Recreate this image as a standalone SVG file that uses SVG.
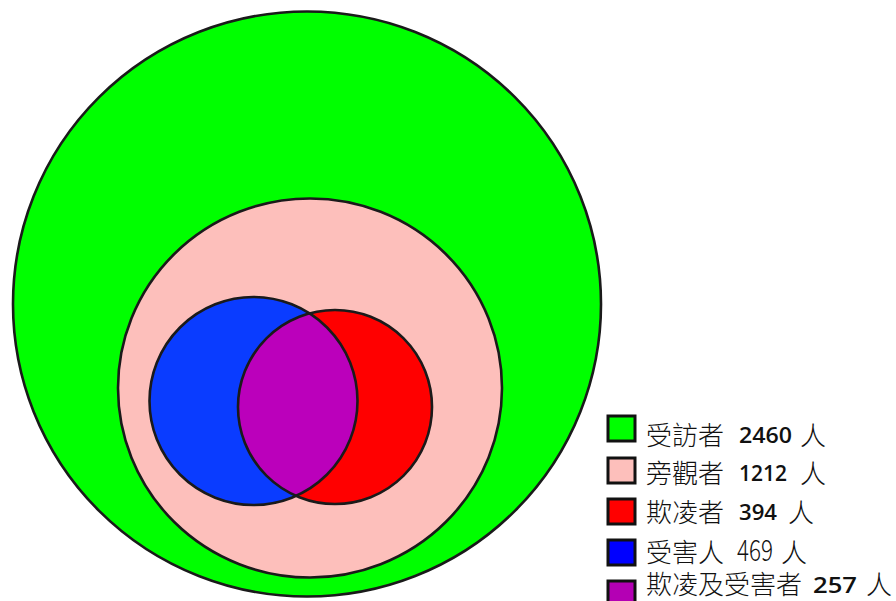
<svg xmlns="http://www.w3.org/2000/svg" width="896" height="601" viewBox="0 0 896 601">
<style>
.ol{stroke:#1a1a1a;stroke-width:2.6}
.lg{stroke:#111;stroke-width:3}
.cjk{font-family:"Noto Sans CJK TC","Noto Sans CJK SC",sans-serif;font-size:26px;font-weight:300;fill:#111}
.num{font-family:"Open Sans","Liberation Sans",sans-serif;font-size:21px;font-weight:600;fill:#111}
.num2{font-family:"Noto Sans CJK TC",sans-serif;font-size:29px;font-weight:300;fill:#111}
</style>
<rect width="896" height="601" fill="#ffffff"/>
<g id="respondents"><ellipse cx="307" cy="304" rx="294" ry="292.5" fill="#00ff00" class="ol"/></g>
<g id="bystanders"><ellipse cx="310" cy="388" rx="192" ry="189.5" fill="#fdbfbb" class="ol"/></g>
<g id="victims"><circle cx="253.5" cy="401" r="104" fill="#0a3cff"/></g>
<g id="bullies"><circle cx="335" cy="407" r="97" fill="#ff0000"/></g>
<g id="both"><path d="M309.55 313.4 A97 97 0 0 0 296.13 495.86 A104 104 0 0 0 309.55 313.4 Z" fill="#bb00bb"/></g>
<g id="outlines" fill="none">
<circle cx="253.5" cy="401" r="104" class="ol"/>
<circle cx="335" cy="407" r="97" class="ol"/>
</g>
<g id="legend">
<g id="legend-respondents"><rect x="608" y="416" width="27" height="25" fill="#00ff00" class="lg"/>
<text x="646" y="445" class="cjk">受訪者</text><text x="739" y="443" class="num" textLength="53" lengthAdjust="spacingAndGlyphs">2460</text><text x="800" y="445" class="cjk">人</text></g>
<g id="legend-bystanders"><rect x="608" y="458" width="27" height="25" fill="#fdbfbb" class="lg"/>
<text x="646" y="483" class="cjk">旁觀者</text><text x="739" y="481" class="num" textLength="48" lengthAdjust="spacingAndGlyphs">1212</text><text x="800" y="483" class="cjk">人</text></g>
<g id="legend-bullies"><rect x="608" y="499" width="27" height="25" fill="#ff0000" class="lg"/>
<text x="646" y="522" class="cjk">欺凌者</text><text x="739" y="520" class="num" textLength="38" lengthAdjust="spacingAndGlyphs">394</text><text x="788" y="522" class="cjk">人</text></g>
<g id="legend-victims"><rect x="608" y="540" width="27" height="25" fill="#0000ff" class="lg"/>
<text x="646" y="562" class="cjk">受害人</text><text x="737" y="561" class="num2" textLength="36" lengthAdjust="spacingAndGlyphs">469</text><text x="781" y="562" class="cjk">人</text></g>
<g id="legend-both"><rect x="608" y="581" width="27" height="25" fill="#b400b4" class="lg"/>
<text x="646" y="594" class="cjk">欺凌及受害者</text><text x="813" y="593" class="num" textLength="44" lengthAdjust="spacingAndGlyphs">257</text><text x="866" y="594" class="cjk">人</text></g>
</g>
</svg>
